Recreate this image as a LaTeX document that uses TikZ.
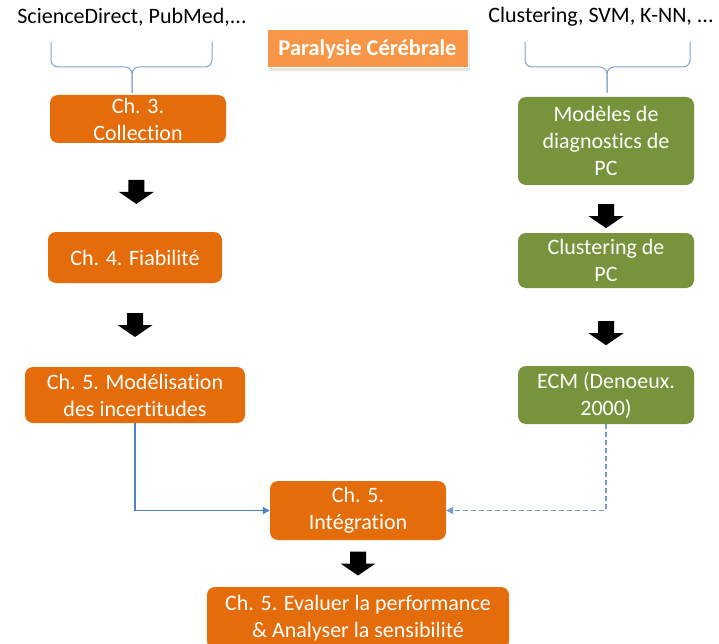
\documentclass[tikz,border=0pt]{standalone}
\usepackage{fontspec}
\setmainfont{Carlito}[Ligatures=NoCommon]
\usepackage{xcolor}
\usetikzlibrary{shapes,arrows.meta,positioning,calc,shadows}

\definecolor{boxorange}{HTML}{E46C0A}
\definecolor{titleorange}{HTML}{F79646}
\definecolor{boxgreen}{HTML}{77933C}
\definecolor{linkblue}{HTML}{4F81BD}
\definecolor{bracecol}{HTML}{7FA3CF}

\begin{document}
\begin{tikzpicture}[x=1pt,y=-1pt,
  box/.style={rounded corners=8pt, text=white, align=center, inner sep=0pt,
    font=\fontsize{22}{27}\selectfont},
  orangebox/.style={box, fill=boxorange},
  greenbox/.style={box, fill=boxgreen},
  source/.style={font=\fontsize{22}{27}\selectfont},
  link/.style={linkblue, line width=1.3pt, -{Triangle[length=7pt,width=7pt]}},
  bracket/.style={bracecol, line width=1pt, rounded corners=7pt},
  blockdown/.pic={\fill[black] (-8,-12) -- (8,-12) -- (8,0) -- (17.5,0) -- (0,12) -- (-17.5,0) -- (-8,0) -- cycle;}
]
\useasboundingbox (0,0) rectangle (719,644);
\clip (0,0) rectangle (719,644);

% Title
\node[fill=titleorange, text=white, font=\bfseries\fontsize{22.5}{27}\selectfont,
  minimum width=201pt, minimum height=38pt, draw=white, line width=1pt,
  drop shadow={shadow xshift=2pt, shadow yshift=-3pt, opacity=0.2}] (paral) at (367.5,49) {Paralysie Cérébrale};

% Sources
\node[source] (sources) at (132,17) {ScienceDirect, PubMed,...};
\node[source] (methods) at (601,17) {Clustering, SVM, K-NN, ...};

% Braces
\draw[bracket] (51,42) -- (51,67) -- (132,67) -- (132,93);
\draw[bracket] (212,42) -- (212,67) -- (132,67) -- (132,93);
\draw[bracket] (525,42) -- (525,67) -- (607,67) -- (607,93);
\draw[bracket] (690,42) -- (690,67) -- (607,67) -- (607,93);

% Left column
\node[orangebox, minimum width=176pt, minimum height=48pt] (collect) at (138,119) {Ch. 3.\\Collection};
\node[orangebox, minimum width=174pt, minimum height=51pt] (fiab) at (135,257.5) {Ch. 4. Fiabilité};
\node[orangebox, minimum width=220pt, minimum height=56pt] (model) at (135,395) {Ch. 5. Modélisation\\des incertitudes};

% Right column
\node[greenbox, minimum width=176pt, minimum height=88pt] (diag) at (606,141) {Modèles de\\diagnostics de\\PC};
\node[greenbox, minimum width=176pt, minimum height=55pt] (clust) at (606,260.5) {Clustering de\\PC};
\node[greenbox, minimum width=176pt, minimum height=58pt] (ecm) at (606,395) {ECM (Denoeux.\\2000)};

% Bottom
\node[orangebox, minimum width=176pt, minimum height=59pt] (integ) at (358,510.5) {Ch. 5.\\Intégration};
\node[orangebox, minimum width=302pt, minimum height=62pt] (evalu) at (358,618) {Ch. 5. Evaluer la performance\\\& Analyser la sensibilité};

% Block arrows
\pic at ($(collect.south)!0.55!(fiab.north)$) {blockdown};
\pic at ($(fiab.south)!0.5!(model.north)$) {blockdown};
\pic at ($(diag.south)!0.65!(clust.north)$) {blockdown};
\pic at ($(clust.south)!0.58!(ecm.north)$) {blockdown};
\pic at ($(integ.south)!0.5!(evalu.north)$) {blockdown};

% Links
\draw[link] (model.south) |- (integ.west);
\draw[link, linkblue!80, dash pattern=on 5pt off 3pt] (ecm.south) |- (integ.east);

\end{tikzpicture}
\end{document}
